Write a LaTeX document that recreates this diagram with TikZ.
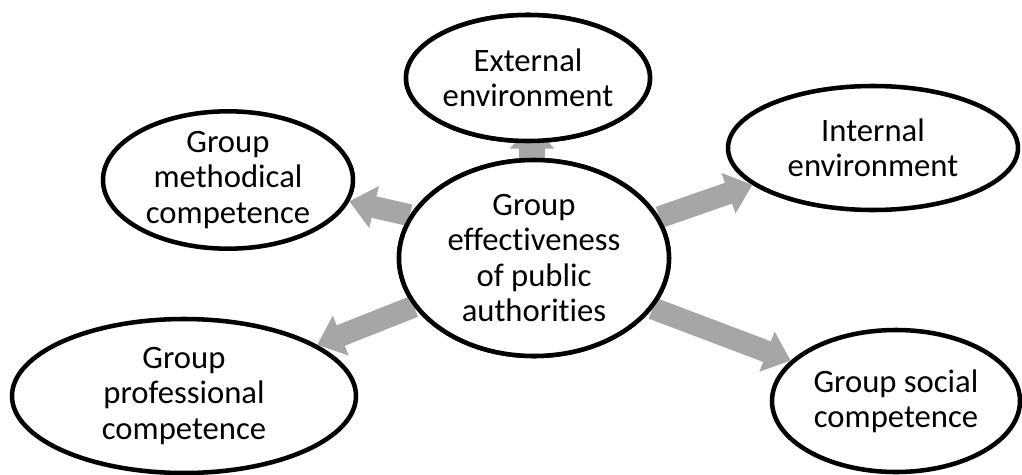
\documentclass[tikz,border=0pt]{standalone}
\usepackage{fontspec}
\setmainfont{Carlito}[Ligatures=NoCommon]
\usetikzlibrary{shapes.geometric,arrows.meta}
\definecolor{arrgray}{HTML}{A6A6A6}
\tikzset{
  bub/.style={ellipse, draw=black, line width=3.4pt, fill=white, align=center,
    inner sep=0pt, font=\fontsize{24.5}{26.5}\selectfont},
  arr/.style={draw=arrgray, line width=16.5pt,
    -{Triangle[length=19pt,width=31pt]}},
}
\begin{document}
\begin{tikzpicture}[x=0.75pt,y=-0.75pt]
\useasboundingbox (0,0) rectangle (1022,475);
% nodes (placed first, the central two redrawn on top after the arrows)
\path
  (534,258) node[bub, minimum width=202.5pt, minimum height=147pt] (c) {Group\\effectiveness\\of public\\authorities}
  (528,78)  node[bub, minimum width=183pt, minimum height=94.5pt] (e) {External\\environment}
  (228,180) node[bub, minimum width=187.5pt, minimum height=99pt] (m) {Group\\methodical\\competence}
  (873,148) node[bub, minimum width=217.5pt, minimum height=93pt] (i) {Internal\\environment}
  (184,396) node[bub, minimum width=258pt, minimum height=115.5pt] (p) {Group\\professional\\competence}
  (896,401) node[bub, minimum width=186pt, minimum height=106.5pt] (s) {Group social\\competence};
% arrows
\draw[arr, line width=20pt, -{Triangle[length=19pt,width=32pt]}, shorten >=-15pt]
  (c.center -| 532,0) -- (e.south -| 532,0);
\draw[arr] (c.161) -- (m.350);
\draw[arr] (c.202) -- (p.21);
\draw[arr] (c.18) -- (i.197);
\draw[arr] (c.337) -- (s.159);
% redraw ellipses on top
\path
  (534,258) node[bub, minimum width=202.5pt, minimum height=147pt] {Group\\effectiveness\\of public\\authorities}
  (528,78)  node[bub, minimum width=183pt, minimum height=94.5pt] {External\\environment};
\end{tikzpicture}
\end{document}
